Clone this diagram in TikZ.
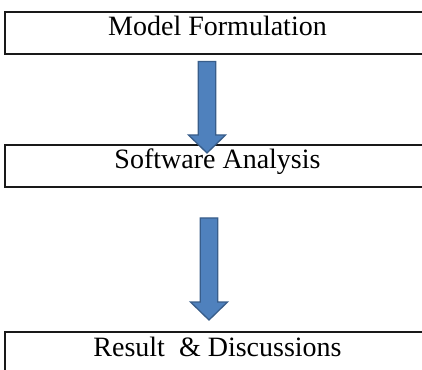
\documentclass[tikz,border=0pt]{standalone}
\usepackage{fontspec}
\setmainfont{Liberation Serif}
\usetikzlibrary{calc}

\definecolor{arrowblue}{HTML}{4F81BD}
\definecolor{arrowedge}{HTML}{385D8A}

\tikzset{
  stagebox/.style={draw=black!90, line width=1.6pt, rectangle,
    minimum width=425pt, minimum height=42pt, inner sep=0pt,
    text height=20pt, text depth=14pt,
    font=\fontsize{28}{32}\selectfont},
  blockarrow/.style={fill=arrowblue, draw=arrowedge, line width=1.3pt,
    line join=miter},
}

% block arrow from #1 (top of shaft) down to #2 (tip)
\newcommand{\flowarrow}[2]{%
  \filldraw[blockarrow]
    ($(#1)+(-8.75pt,0)$) -- ($(#2)+(-8.75pt,18pt)$) -- ($(#2)+(-18.5pt,18pt)$)
    -- (#2) -- ($(#2)+(18.5pt,18pt)$) -- ($(#2)+(8.75pt,18pt)$)
    -- ($(#1)+(8.75pt,0)$) -- cycle;}

\begin{document}
\begin{tikzpicture}[x=1pt,y=1pt]
  \useasboundingbox (0,0) rectangle (422,369);
  \begin{scope}
    \clip (0,0) rectangle (422,369);
    \node[stagebox] (model) at (217.5,336) {Model Formulation};
    \node[stagebox] (software) at (217.5,203) {Software Analysis};
    \node[stagebox] (result) at (217.5,16) {Result\ \ \& Discussions};

    \coordinate (a1s) at (207,307.5);
    \coordinate (a1e) at (207,216);
    \coordinate (a2s) at (209,151);
    \coordinate (a2e) at (209,49);
    \flowarrow{a1s}{a1e}
    \flowarrow{a2s}{a2e}
  \end{scope}
\end{tikzpicture}
\end{document}
